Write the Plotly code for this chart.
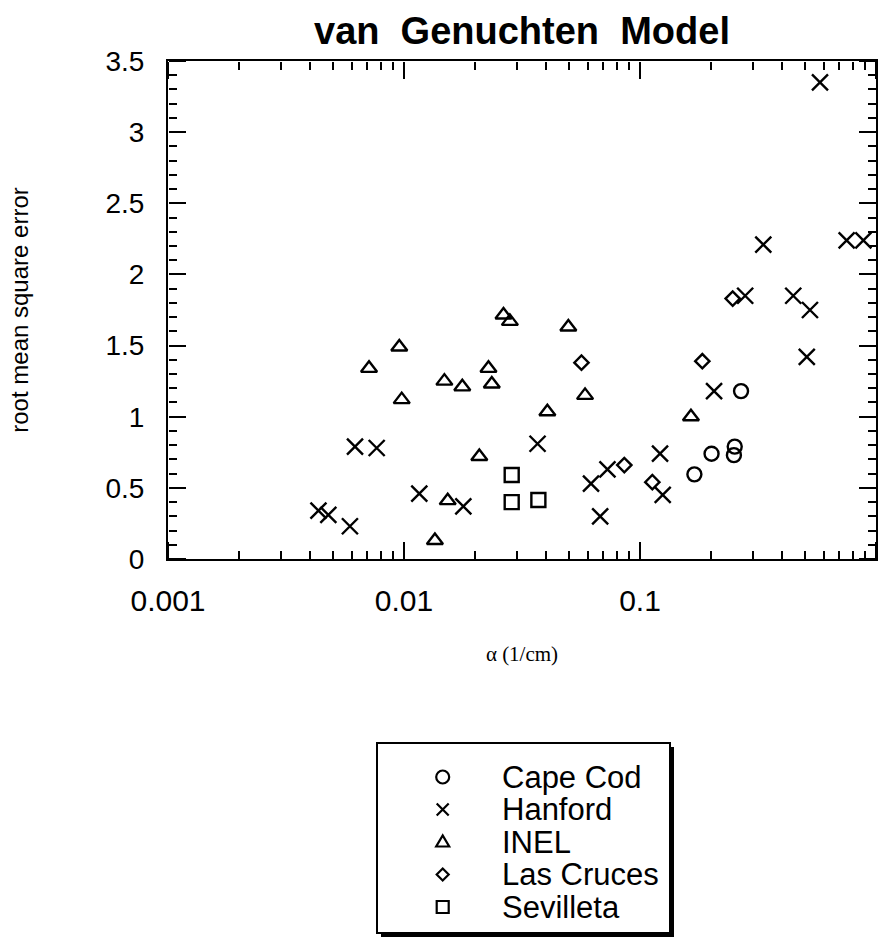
import plotly.graph_objects as go

# ---------------- data ----------------
series_names = ["Cape Cod", "Hanford", "INEL", "Las Cruces", "Sevilleta"]
series_symbols = ["circle-open", "x-thin-open", "triangle-up-open", "diamond-open", "square-open"]

cape_x = [0.268, 0.252, 0.250, 0.201, 0.170]
cape_y = [1.18, 0.79, 0.73, 0.74, 0.595]

hanford_x = [0.579, 0.333, 0.751, 0.884, 0.279, 0.446, 0.525, 0.509, 0.206, 0.1216, 0.1248,
             0.0728, 0.062, 0.0678, 0.0368, 0.0062, 0.00766, 0.01161, 0.01784, 0.00434,
             0.00478, 0.0059]
hanford_y = [3.35, 2.21, 2.24, 2.24, 1.85, 1.85, 1.75, 1.42, 1.18, 0.74, 0.45,
             0.63, 0.53, 0.30, 0.81, 0.79, 0.78, 0.46, 0.37, 0.34,
             0.31, 0.23]

inel_x = [0.0264, 0.0281, 0.00955, 0.00711, 0.0228, 0.01483, 0.01766, 0.02355, 0.00978,
          0.02085, 0.01532, 0.01352, 0.0497, 0.0585, 0.0405, 0.1644]
inel_y = [1.715, 1.67, 1.49, 1.34, 1.34, 1.25, 1.21, 1.23, 1.12,
          0.72, 0.41, 0.13, 1.63, 1.15, 1.035, 1.00]

lascruces_x = [0.0565, 0.1837, 0.247, 0.0858, 0.1128]
lascruces_y = [1.38, 1.39, 1.83, 0.66, 0.54]

sevilleta_x = [0.0286, 0.0286, 0.0371]
sevilleta_y = [0.59, 0.40, 0.415]

x_tick_vals = [0.001, 0.01, 0.1, 1]
x_tick_text = ["0.001", "0.01", "0.1", "1"]
y_tick_vals = [0, 0.5, 1, 1.5, 2, 2.5, 3, 3.5]
y_tick_text = ["0", "0.5", "1", "1.5", "2", "2.5", "3", "3.5"]

title_text = "van\u00a0\u00a0Genuchten\u00a0\u00a0Model"
x_title = "\u03b1 (1/cm)"
y_title = "root mean square error"

# ---------------- layout geometry (pixels) ----------------
W, H = 881, 942
PL, PR, PT, PB = 168, 876, 61, 559          # plot frame
LB_L, LB_R, LB_T, LB_B = 377, 670, 743, 933  # legend box
LEG_SYM_X, LEG_TXT_X, LEG_ROW0, LEG_ROW_H = 442.7, 500, 777, 32.5

def px(x):
    return x / W

def py(y):
    return 1 - y / H

SANS = "Liberation Sans, Arial, Helvetica, sans-serif"
SERIF = "Liberation Serif, Times New Roman, serif"

all_x = [cape_x, hanford_x, inel_x, lascruces_x, sevilleta_x]
all_y = [cape_y, hanford_y, inel_y, lascruces_y, sevilleta_y]
plot_sizes = [14, 16, 14, 11, 14]

fig = go.Figure()
for name, sym, xs, ys, sz in zip(series_names, series_symbols, all_x, all_y, plot_sizes):
    fig.add_trace(go.Scatter(
        x=xs, y=ys, mode="markers", name=name, showlegend=False,
        marker=dict(symbol=sym, size=sz, color="black",
                    line=dict(color="black", width=2.4)),
    ))

# invisible companions so the tick-only overlay axes get drawn
for xa, ya in (("x2", "y2"), ("x3", "y3")):
    fig.add_trace(go.Scatter(x=sevilleta_x, y=sevilleta_y, xaxis=xa, yaxis=ya,
                             mode="markers", marker=dict(opacity=0),
                             showlegend=False, hoverinfo="skip"))

# ---------------- hand-drawn legend box ----------------
fig.add_shape(type="rect", xref="paper", yref="paper", layer="below",
              x0=px(LB_L + 4), x1=px(LB_R + 4), y0=py(LB_T + 4), y1=py(LB_B + 4),
              fillcolor="black", line=dict(width=0))
fig.add_shape(type="rect", xref="paper", yref="paper", layer="below",
              x0=px(LB_L), x1=px(LB_R), y0=py(LB_T), y1=py(LB_B),
              fillcolor="white", line=dict(color="black", width=2))

glyph_paths = {
    "circle-open": None,
    "x-thin-open": "M-6,-6L6,6M-6,6L6,-6",
    "triangle-up-open": "M-6.5,-4.5L6.5,-4.5L0,6.5Z",
    "diamond-open": "M0,6L6,0L0,-6L-6,0Z",
    "square-open": "M-6,-6L6,-6L6,6L-6,6Z",
}
for i, (name, sym) in enumerate(zip(series_names, series_symbols)):
    cy = LEG_ROW0 + LEG_ROW_H * i
    common = dict(xref="paper", yref="paper", xsizemode="pixel", ysizemode="pixel",
                  xanchor=px(LEG_SYM_X), yanchor=py(cy),
                  line=dict(color="black", width=2.2), fillcolor="rgba(0,0,0,0)")
    if glyph_paths[sym] is None:
        fig.add_shape(type="circle", x0=-6.5, x1=6.5, y0=-6.5, y1=6.5, **common)
    else:
        fig.add_shape(type="path", path=glyph_paths[sym], **common)
    fig.add_annotation(x=px(LEG_TXT_X), y=py(cy), xref="paper", yref="paper", text=name,
                       showarrow=False, xanchor="left", yanchor="middle",
                       font=dict(family=SANS, size=31, color="black"))

# tick-only axes: outward ticks of a flipped-side axis point into the frame
x_tick_axis = dict(type="log", range=[-3, 0], overlaying="x", anchor="free",
                   tickmode="array", tickvals=x_tick_vals,
                   ticks="outside", ticklen=17, tickwidth=2, tickcolor="black",
                   minor=dict(ticks="outside", ticklen=8, tickwidth=1.5,
                              tickcolor="black", dtick="D1", showgrid=False),
                   showticklabels=False, showline=False, showgrid=False,
                   zeroline=False, fixedrange=True)
y_tick_axis = dict(range=[0, 3.5], overlaying="y", anchor="free",
                   tickmode="array", tickvals=y_tick_vals,
                   ticks="outside", ticklen=17, tickwidth=2, tickcolor="black",
                   minor=dict(ticks="outside", ticklen=8, tickwidth=1.5,
                              tickcolor="black", dtick=0.1, showgrid=False),
                   showticklabels=False, showline=False, showgrid=False,
                   zeroline=False, fixedrange=True)

fig.update_layout(
    width=W, height=H,
    margin=dict(l=0, r=0, t=0, b=0),
    paper_bgcolor="white", plot_bgcolor="rgba(0,0,0,0)",
    showlegend=False,
    title=dict(text=title_text, x=px((PL + PR) / 2), xanchor="center",
               y=py(31), yanchor="middle", yref="container", xref="container",
               font=dict(family=SANS, size=38, color="black", weight="bold")),
    xaxis=dict(
        type="log", range=[-3, 0], domain=[px(PL), px(PR)],
        tickmode="array", tickvals=x_tick_vals, ticktext=x_tick_text,
        ticks="", showline=True, linewidth=2, linecolor="black", mirror=True,
        showgrid=False, zeroline=False,
        tickfont=dict(family=SANS, size=30, color="black"),
        ticklabelstandoff=14,
        title=dict(text=x_title, standoff=30,
                   font=dict(family=SERIF, size=21, color="black")),
        automargin=False,
    ),
    yaxis=dict(
        range=[0, 3.5], domain=[py(PB), py(PT)],
        tickmode="array", tickvals=y_tick_vals, ticktext=y_tick_text,
        ticks="", showline=True, linewidth=2, linecolor="black", mirror=True,
        showgrid=False, zeroline=False,
        tickfont=dict(family=SANS, size=28, color="black"),
        ticklabelstandoff=16,
        title=dict(text=y_title, standoff=70,
                   font=dict(family=SANS, size=24, color="black")),
        automargin=False,
    ),
    xaxis2=dict(x_tick_axis, side="top", position=py(PB)),
    xaxis3=dict(x_tick_axis, side="bottom", position=py(PT)),
    yaxis2=dict(y_tick_axis, side="right", position=px(PL)),
    yaxis3=dict(y_tick_axis, side="left", position=px(PR)),
)

fig.write_html("out.html")
